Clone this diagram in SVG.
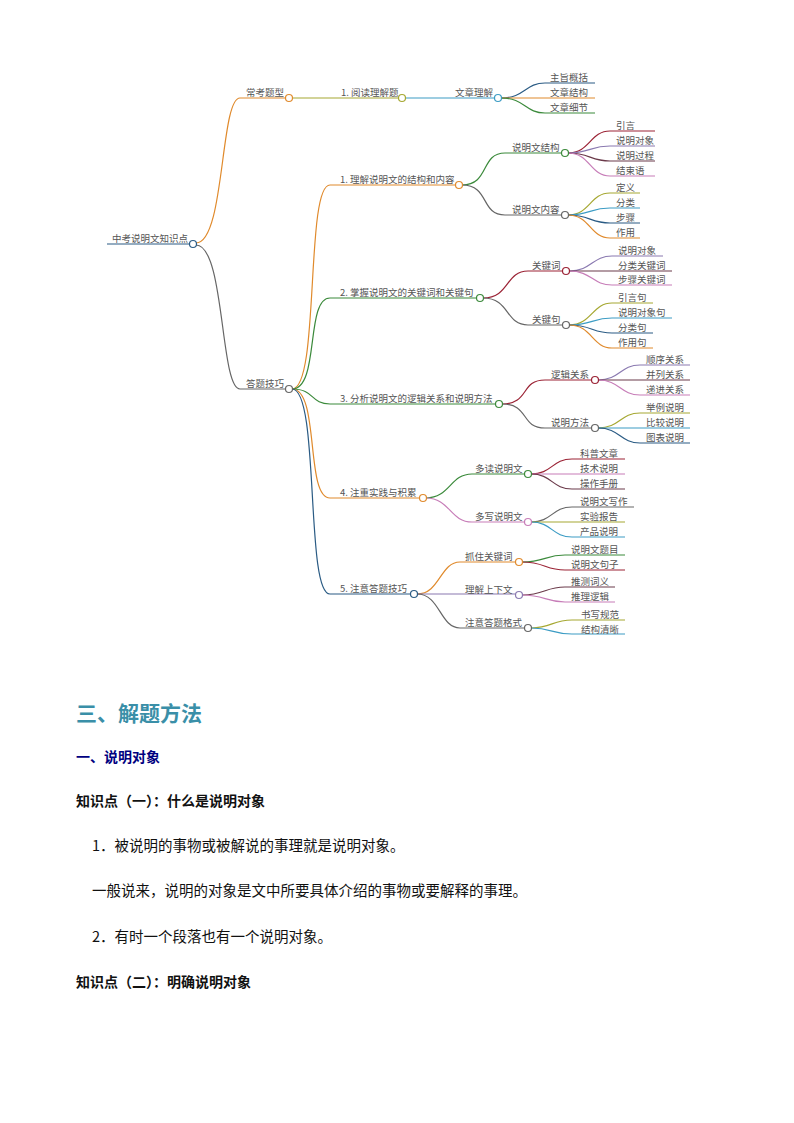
<svg xmlns="http://www.w3.org/2000/svg" width="794" height="1123" viewBox="0 0 794 1123">
<style>
.t{font-family:"Noto Sans CJK SC","Noto Sans",sans-serif;font-size:9.5px;fill:#555}
.c{fill:#fff;stroke-width:1.2}
path{fill:none;stroke-width:1.2}
.b{font-family:"Noto Sans CJK SC",sans-serif;font-weight:bold;font-size:14px;fill:#111}
.p{font-family:"Noto Sans CJK SC",sans-serif;font-size:14.5px;fill:#111}
</style>
<rect width="794" height="1123" fill="#fff"/>
<g id="connectors">
<path d="M107,244H193" stroke="#2a5b84" stroke-width="2.5"/>
<path d="M196,243C225,243 220,98 240,98H286" stroke="#e08a2c"/>
<path d="M196,245C225,245 220,389 240,389H286" stroke="#666"/>
<path d="M292,98H399" stroke="#a6a832"/>
<path d="M405,98H495" stroke="#3c9cc4"/>
<path d="M501,98C525,98 525,83 545,83H595" stroke="#2a5b84"/>
<path d="M501,98H595" stroke="#e08a2c"/>
<path d="M501,98C525,98 525,113 545,113H595" stroke="#3b8a3b"/>
<path d="M292,389C320,389 305,185 330,185H456" stroke="#e08a2c"/>
<path d="M292,389C320,389 305,298 330,298H477" stroke="#3b8a3b"/>
<path d="M292,389C315,389 310,404 330,404H496" stroke="#3b8a3b"/>
<path d="M292,389C320,389 305,498 330,498H420" stroke="#e08a2c"/>
<path d="M292,389C320,389 305,594 330,594H411" stroke="#2a5b84"/>
<path d="M462,185C490,185 480,153 505,153H562" stroke="#3b8a3b"/>
<path d="M462,185C490,185 480,215 505,215H562" stroke="#666"/>
<path d="M568,153C590,153 590,131 610,131H655" stroke="#9b2335"/>
<path d="M568,153C590,153 590,146 610,146H655" stroke="#8a79b0"/>
<path d="M568,153C590,153 590,161 610,161H655" stroke="#6b3a4a"/>
<path d="M568,153C590,153 590,176 610,176H655" stroke="#c77db8"/>
<path d="M568,215C590,215 590,193 610,193H640" stroke="#a6a832"/>
<path d="M568,215C590,215 590,208 610,208H640" stroke="#3c9cc4"/>
<path d="M568,215C590,215 590,223 610,223H640" stroke="#2a5b84"/>
<path d="M568,215C590,215 590,238 610,238H640" stroke="#e08a2c"/>
<path d="M483,298C510,298 505,271 528,271H563" stroke="#9b2335"/>
<path d="M483,298C510,298 505,325 528,325H563" stroke="#666"/>
<path d="M569,271C592,271 592,256 612,256H663" stroke="#8a79b0"/>
<path d="M569,271H672" stroke="#6b3a4a"/>
<path d="M569,271C592,271 592,285 612,285H672" stroke="#c77db8"/>
<path d="M569,325C592,325 592,303 612,303H653" stroke="#a6a832"/>
<path d="M569,325C592,325 592,318 612,318H672" stroke="#3c9cc4"/>
<path d="M569,325C592,325 592,333 612,333H653" stroke="#2a5b84"/>
<path d="M569,325C592,325 592,348 612,348H653" stroke="#e08a2c"/>
<path d="M502,404C530,404 520,380 545,380H592" stroke="#9b2335"/>
<path d="M502,404C530,404 520,428 545,428H592" stroke="#666"/>
<path d="M598,380C620,380 620,365 640,365H690" stroke="#8a79b0"/>
<path d="M598,380H690" stroke="#6b3a4a"/>
<path d="M598,380C620,380 620,395 640,395H690" stroke="#c77db8"/>
<path d="M598,428C620,428 620,413 640,413H690" stroke="#a6a832"/>
<path d="M598,428H690" stroke="#3c9cc4"/>
<path d="M598,428C620,428 620,443 640,443H690" stroke="#2a5b84"/>
<path d="M426,498C450,498 450,474 472,474H525" stroke="#3b8a3b"/>
<path d="M426,498C450,498 450,522 472,522H525" stroke="#c77db8"/>
<path d="M531,474C552,474 552,459 572,459H625" stroke="#9b2335"/>
<path d="M531,474H625" stroke="#c77db8"/>
<path d="M531,474C552,474 552,489 572,489H625" stroke="#6b3a4a"/>
<path d="M531,522C552,522 552,507 572,507H634" stroke="#666"/>
<path d="M531,522H625" stroke="#a6a832"/>
<path d="M531,522C552,522 552,537 572,537H625" stroke="#3c9cc4"/>
<path d="M417,594C440,594 440,562 460,562H515" stroke="#e08a2c"/>
<path d="M417,594H515" stroke="#8a79b0"/>
<path d="M417,594C440,594 440,628 460,628H525" stroke="#666"/>
<path d="M522,562C545,562 545,555 565,555H625" stroke="#3b8a3b"/>
<path d="M522,562C545,562 545,570 565,570H625" stroke="#9b2335"/>
<path d="M522,595C545,595 545,587 565,587H615" stroke="#6b3a4a"/>
<path d="M522,595C545,595 545,602 565,602H615" stroke="#c77db8"/>
<path d="M531,628C552,628 552,620 572,620H625" stroke="#a6a832"/>
<path d="M531,628C552,628 552,634 572,634H625" stroke="#3c9cc4"/>
</g>
<g id="n-root"><text class="t" x="112" y="242">中考说明文知识点</text><circle class="c" cx="193" cy="244" r="3.5" stroke="#2a5b84"/></g>
<g id="n-ck"><text class="t" x="246" y="96">常考题型</text><circle class="c" cx="289" cy="98" r="3.5" stroke="#e08a2c"/></g>
<g id="n-yd"><text class="t" x="341" y="96">1. 阅读理解题</text><circle class="c" cx="402" cy="98" r="3.5" stroke="#a6a832"/></g>
<g id="n-wz"><text class="t" x="455" y="96">文章理解</text><circle class="c" cx="498" cy="98" r="3.5" stroke="#3c9cc4"/></g>
<g id="n-l1"><text class="t" x="550" y="81">主旨概括</text></g>
<g id="n-l2"><text class="t" x="550" y="96">文章结构</text></g>
<g id="n-l3"><text class="t" x="550" y="111">文章细节</text></g>
<g id="n-dt"><text class="t" x="246" y="387">答题技巧</text><circle class="c" cx="289" cy="389" r="3.5" stroke="#666"/></g>
<g id="n-1"><text class="t" x="340" y="183">1. 理解说明文的结构和内容</text><circle class="c" cx="459" cy="185" r="3.5" stroke="#e08a2c"/></g>
<g id="n-1a"><text class="t" x="512" y="151">说明文结构</text><circle class="c" cx="565" cy="153" r="3.5" stroke="#3b8a3b"/></g>
<g id="n-1b"><text class="t" x="512" y="213">说明文内容</text><circle class="c" cx="565" cy="215" r="3.5" stroke="#666"/></g>
<g id="n-1a1"><text class="t" x="616" y="129">引言</text></g>
<g id="n-1a2"><text class="t" x="616" y="144">说明对象</text></g>
<g id="n-1a3"><text class="t" x="616" y="159">说明过程</text></g>
<g id="n-1a4"><text class="t" x="616" y="174">结束语</text></g>
<g id="n-1b1"><text class="t" x="616" y="191">定义</text></g>
<g id="n-1b2"><text class="t" x="616" y="206">分类</text></g>
<g id="n-1b3"><text class="t" x="616" y="221">步骤</text></g>
<g id="n-1b4"><text class="t" x="616" y="236">作用</text></g>
<g id="n-2"><text class="t" x="340" y="296">2. 掌握说明文的关键词和关键句</text><circle class="c" cx="480" cy="298" r="3.5" stroke="#3b8a3b"/></g>
<g id="n-2a"><text class="t" x="532" y="269">关键词</text><circle class="c" cx="566" cy="271" r="3.5" stroke="#9b2335"/></g>
<g id="n-2b"><text class="t" x="532" y="323">关键句</text><circle class="c" cx="566" cy="325" r="3.5" stroke="#666"/></g>
<g id="n-2a1"><text class="t" x="618" y="254">说明对象</text></g>
<g id="n-2a2"><text class="t" x="618" y="269">分类关键词</text></g>
<g id="n-2a3"><text class="t" x="618" y="283">步骤关键词</text></g>
<g id="n-2b1"><text class="t" x="618" y="301">引言句</text></g>
<g id="n-2b2"><text class="t" x="618" y="316">说明对象句</text></g>
<g id="n-2b3"><text class="t" x="618" y="331">分类句</text></g>
<g id="n-2b4"><text class="t" x="618" y="346">作用句</text></g>
<g id="n-3"><text class="t" x="340" y="402">3. 分析说明文的逻辑关系和说明方法</text><circle class="c" cx="499" cy="404" r="3.5" stroke="#3b8a3b"/></g>
<g id="n-3a"><text class="t" x="551" y="378">逻辑关系</text><circle class="c" cx="595" cy="380" r="3.5" stroke="#9b2335"/></g>
<g id="n-3b"><text class="t" x="551" y="426">说明方法</text><circle class="c" cx="595" cy="428" r="3.5" stroke="#666"/></g>
<g id="n-3a1"><text class="t" x="646" y="363">顺序关系</text></g>
<g id="n-3a2"><text class="t" x="646" y="378">并列关系</text></g>
<g id="n-3a3"><text class="t" x="646" y="393">递进关系</text></g>
<g id="n-3b1"><text class="t" x="646" y="411">举例说明</text></g>
<g id="n-3b2"><text class="t" x="646" y="426">比较说明</text></g>
<g id="n-3b3"><text class="t" x="646" y="441">图表说明</text></g>
<g id="n-4"><text class="t" x="340" y="496">4. 注重实践与积累</text><circle class="c" cx="423" cy="498" r="3.5" stroke="#e08a2c"/></g>
<g id="n-4a"><text class="t" x="475" y="472">多读说明文</text><circle class="c" cx="528" cy="474" r="3.5" stroke="#3b8a3b"/></g>
<g id="n-4b"><text class="t" x="475" y="520">多写说明文</text><circle class="c" cx="528" cy="522" r="3.5" stroke="#c77db8"/></g>
<g id="n-4a1"><text class="t" x="580" y="457">科普文章</text></g>
<g id="n-4a2"><text class="t" x="580" y="472">技术说明</text></g>
<g id="n-4a3"><text class="t" x="580" y="487">操作手册</text></g>
<g id="n-4b1"><text class="t" x="580" y="505">说明文写作</text></g>
<g id="n-4b2"><text class="t" x="580" y="520">实验报告</text></g>
<g id="n-4b3"><text class="t" x="580" y="535">产品说明</text></g>
<g id="n-5"><text class="t" x="340" y="592">5. 注意答题技巧</text><circle class="c" cx="414" cy="594" r="3.5" stroke="#2a5b84"/></g>
<g id="n-5a"><text class="t" x="465" y="560">抓住关键词</text><circle class="c" cx="519" cy="562" r="3.5" stroke="#e08a2c"/></g>
<g id="n-5b"><text class="t" x="465" y="593">理解上下文</text><circle class="c" cx="519" cy="595" r="3.5" stroke="#8a79b0"/></g>
<g id="n-5c"><text class="t" x="465" y="626">注意答题格式</text><circle class="c" cx="528" cy="628" r="3.5" stroke="#666"/></g>
<g id="n-5a1"><text class="t" x="571" y="553">说明文题目</text></g>
<g id="n-5a2"><text class="t" x="571" y="568">说明文句子</text></g>
<g id="n-5b1"><text class="t" x="571" y="585">推测词义</text></g>
<g id="n-5b2"><text class="t" x="571" y="600">推理逻辑</text></g>
<g id="n-5c1"><text class="t" x="581" y="618">书写规范</text></g>
<g id="n-5c2"><text class="t" x="581" y="633">结构清晰</text></g>
<text x="76" y="721" font-family="Noto Sans CJK SC,sans-serif" font-weight="bold" font-size="21" fill="#3a8fa8">三、解题方法</text>
<text x="76" y="762" font-family="Noto Sans CJK SC,sans-serif" font-weight="bold" font-size="14" fill="#000080">一、说明对象</text>
<text class="b" x="76" y="806">知识点（一）：什么是说明对象</text>
<text class="p" x="92" y="851">1．被说明的事物或被解说的事理就是说明对象。</text>
<text class="p" x="92" y="896">一般说来，说明的对象是文中所要具体介绍的事物或要解释的事理。</text>
<text class="p" x="92" y="942">2．有时一个段落也有一个说明对象。</text>
<text class="b" x="76" y="987">知识点（二）：明确说明对象</text>
</svg>
